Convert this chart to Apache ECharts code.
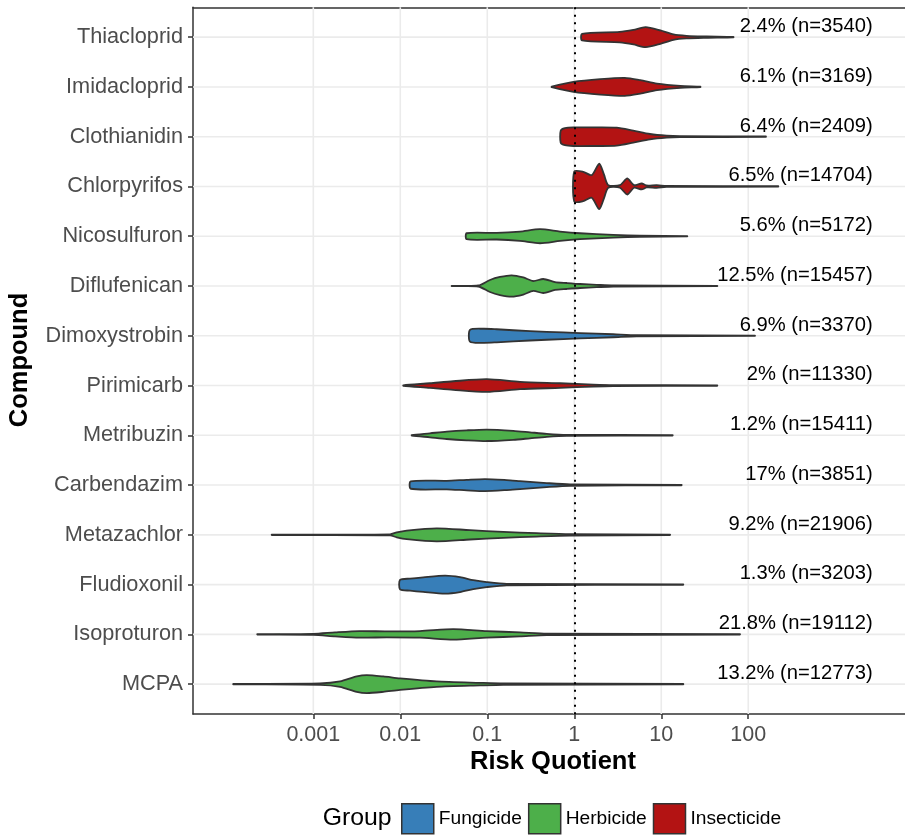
<!DOCTYPE html>
<html><head><meta charset="utf-8">
<script src="https://cdn.jsdelivr.net/npm/echarts@6/dist/echarts.min.js"></script>
<style>html,body{margin:0;padding:0;background:#fff}#c{width:905px;height:835px}</style>
</head><body><div id="c"></div>
<script>
// ---- data (rows listed top to bottom) ----
const compounds = ['Thiacloprid','Imidacloprid','Clothianidin','Chlorpyrifos','Nicosulfuron','Diflufenican','Dimoxystrobin','Pirimicarb','Metribuzin','Carbendazim','Metazachlor','Fludioxonil','Isoproturon','MCPA'];
const groups = ['Insecticide','Insecticide','Insecticide','Insecticide','Herbicide','Herbicide','Fungicide','Insecticide','Herbicide','Fungicide','Herbicide','Fungicide','Herbicide','Herbicide'];
const pctExceed = ['2.4','6.1','6.4','6.5','5.6','12.5','6.9','2','1.2','17','9.2','1.3','21.8','13.2'];
const nSamples = [3540,3169,2409,14704,5172,15457,3370,11330,15411,3851,21906,3203,19112,12773];
const xBreaks = [0.001,0.01,0.1,1,10,100];
const xTickLabels = ['0.001','0.01','0.1','1','10','100'];
const groupNames = ['Fungicide','Herbicide','Insecticide'];
const groupColors = ['#377EB8','#4DAF4A','#B31313'];

// violin outlines: [log10(RQ), half-width (fraction of row spacing)]
const vThiacloprid = [[0.09,.066],[0.52,.106],[0.68,.147],[0.82,.201],[0.99,.135],[1.14,.054],[1.29,.026],[1.52,.014],[1.83,.004]];
const vImidacloprid = [[-0.26,.006],[-0.01,.10],[0.30,.155],[0.58,.181],[0.76,.135],[0.95,.066],[1.22,.02],[1.45,.004]];
const vClothianidin = [[-0.156,.121],[-0.107,.171],[-0.011,.187],[0.218,.187],[0.487,.181],[0.678,.121],[0.870,.054],[1.062,.02],[1.215,.01],[2.203,.004]];
const vChlorpyrifos = [[0,.301],[0.103,.295],[0.2,.227],[0.287,.456],[0.341,.241],[0.391,.026],[0.525,.026],[0.609,.161],[0.686,.026],[0.775,.06],[0.832,.02],[0.947,.026],[1.062,.01],[2.345,.004]];
const vNicosulfuron = [[-1.237,.06],[-0.892,.066],[-0.624,.094],[-0.394,.141],[-0.164,.094],[0.066,.06],[0.448,.026],[0.755,.01],[1.299,.004]];
const vDiflufenican = [[-1.409,.004],[-1.103,.01],[-0.969,.121],[-0.854,.181],[-0.720,.215],[-0.586,.171],[-0.471,.10],[-0.356,.141],[-0.222,.08],[-0.087,.06],[0.066,.04],[0.257,.024],[0.448,.01],[1.644,.004]];
const vDimoxystrobin = [[-1.199,.117],[-1.046,.141],[-0.892,.131],[-0.701,.111],[-0.317,.08],[0.066,.054],[0.448,.03],[0.717,.01],[2.077,.004]];
const vPirimicarb = [[-1.966,.004],[-1.659,.046],[-1.391,.086],[-1.007,.127],[-0.624,.074],[-0.164,.046],[0.218,.02],[0.448,.01],[1.644,.004]];
const vMetribuzin = [[-1.869,.004],[-1.659,.04],[-1.467,.074],[-1.237,.10],[-1.007,.115],[-0.701,.09],[-0.509,.06],[-0.317,.03],[-0.087,.01],[1.131,.004]];
const vCarbendazim = [[-1.880,.074],[-1.467,.086],[-1.237,.106],[-1.026,.121],[-0.777,.10],[-0.624,.08],[-0.317,.04],[-0.049,.014],[1.234,.004]];
const vMetazachlor = [[-3.478,.004],[-2.118,.01],[-2.041,.05],[-1.926,.086],[-1.582,.131],[-1.199,.094],[-0.816,.06],[-0.432,.034],[-0.049,.014],[1.101,.004]];
const vFludioxonil = [[-2.003,.094],[-1.888,.121],[-1.736,.147],[-1.486,.181],[-1.314,.151],[-1.161,.09],[-1.007,.05],[-0.777,.014],[1.253,.004]];
const vIsoproturon = [[-3.644,.004],[-3.0,.01],[-2.75,.04],[-2.47,.066],[-2.156,.06],[-1.774,.066],[-1.391,.106],[-1.007,.066],[-0.624,.04],[-0.317,.014],[1.905,.004]];
const vMCPA = [[-3.920,.004],[-2.923,.014],[-2.693,.054],[-2.501,.155],[-2.386,.181],[-2.195,.155],[-2.003,.115],[-1.582,.054],[-1.084,.026],[-0.816,.014],[1.253,.004]];
const violins = [vThiacloprid,vImidacloprid,vClothianidin,vChlorpyrifos,vNicosulfuron,vDiflufenican,vDimoxystrobin,vPirimicarb,vMetribuzin,vCarbendazim,vMetazachlor,vFludioxonil,vIsoproturon,vMCPA];

// ---- chart ----
const FONT = '"Liberation Sans", Arial, Helvetica, sans-serif';
const X_MIN = -4.383, X_MAX = 3.802, Y_MIN = -0.6, Y_MAX = 13.6;
const LABEL_X = 3.43;
const rows = compounds.map((c, i) => i);
const logBreaks = xBreaks.map(v => Math.log10(v));

function renderViolin(params, api) {
  const i = api.value(1);
  const prof = violins[i];
  const pts = [];
  for (const p of prof) pts.push(api.coord([p[0], i - p[1]]));
  for (let k = prof.length - 1; k >= 0; k--) pts.push(api.coord([prof[k][0], i + prof[k][1]]));
  return {
    type: 'polygon',
    shape: { points: pts, smooth: 0.25 },
    style: { fill: api.visual('color'), stroke: '#333333', lineWidth: 1.8, lineJoin: 'round' }
  };
}

const violinSeries = groupNames.map((g, gi) => ({
  name: g,
  type: 'custom',
  z: 3,
  itemStyle: { color: groupColors[gi], borderColor: '#333333', borderWidth: 1.5 },
  renderItem: renderViolin,
  data: rows.filter(i => groups[i] === g).map(i => [0, i])
}));

const option = {
  animation: false,
  backgroundColor: '#ffffff',
  grid: { left: 193, right: 0, top: 7.3, bottom: 835 - 714 },
  xAxis: [{
    type: 'value', min: X_MIN, max: X_MAX,
    axisLine: { show: true, onZero: false, lineStyle: { color: '#333333', width: 1.5 } },
    axisTick: { show: true, length: 5, lineStyle: { color: '#333333', width: 1.5 }, customValues: logBreaks },
    axisLabel: { customValues: logBreaks, margin: 10, color: '#4D4D4D', fontSize: 21.5, fontFamily: FONT,
      formatter: v => { const k = logBreaks.findIndex(b => Math.abs(b - v) < 1e-6); return k >= 0 ? xTickLabels[k] : ''; } },
    splitLine: { show: false }
  }, {
    type: 'value', position: 'top', min: X_MIN, max: X_MAX,
    axisLine: { show: true, onZero: false, lineStyle: { color: '#333333', width: 1.5 } },
    axisTick: { show: false }, axisLabel: { show: false }, splitLine: { show: false }
  }],
  yAxis: {
    type: 'value', min: Y_MIN, max: Y_MAX, inverse: true,
    axisLine: { show: true, onZero: false, lineStyle: { color: '#333333', width: 1.5 } },
    axisTick: { show: true, length: 5, lineStyle: { color: '#333333', width: 1.5 }, customValues: rows },
    axisLabel: { customValues: rows, margin: 10, color: '#4D4D4D', fontSize: 21.7, fontFamily: FONT,
      formatter: v => compounds[Math.round(v)] || '' },
    splitLine: { show: false }
  },
  legend: {
    data: groupNames, left: 401, top: 803, orient: 'horizontal', padding: 0,
    itemWidth: 32, itemHeight: 30, itemGap: 6, icon: 'rect',
    itemStyle: { borderColor: '#333333', borderWidth: 1.5 },
    textStyle: { fontSize: 19.2, color: '#000000', fontFamily: FONT }
  },
  graphic: [
    { type: 'text', x: 553, y: 762, style: { text: 'Risk Quotient', font: 'bold 25.5px ' + FONT, fill: '#000', align: 'center', verticalAlign: 'middle' } },
    { type: 'text', x: 20, y: 360, rotation: Math.PI / 2, style: { text: 'Compound', font: 'bold 25.5px ' + FONT, fill: '#000', align: 'center', verticalAlign: 'middle' } },
    { type: 'text', x: 322.7, y: 818, style: { text: 'Group', font: '24.8px ' + FONT, fill: '#000', align: 'left', verticalAlign: 'middle' } }
  ],
  series: [
    {
      type: 'custom', z: 1, silent: true,
      renderItem: (params, api) => {
        const cs = params.coordSys;
        const kind = api.value(0), v = api.value(1);
        if (kind === 0) {
          const x = api.coord([v, 0])[0];
          return { type: 'line', shape: { x1: x, y1: cs.y, x2: x, y2: cs.y + cs.height }, style: { stroke: '#EBEBEB', lineWidth: 1.6 } };
        }
        const y = api.coord([0, v])[1];
        return { type: 'line', shape: { x1: cs.x, y1: y, x2: cs.x + cs.width, y2: y }, style: { stroke: '#EBEBEB', lineWidth: 1.6 } };
      },
      data: logBreaks.map(b => [0, b]).concat(rows.map(i => [1, i]))
    },
    ...violinSeries,
    {
      type: 'custom', z: 5, silent: true,
      renderItem: (params, api) => {
        const i = api.value(1);
        const p = api.coord([LABEL_X, i - 0.215]);
        return { type: 'text', x: p[0], y: p[1], style: { text: pctExceed[i] + '% (n=' + nSamples[i] + ')', font: '20.2px ' + FONT, fill: '#000', align: 'right', verticalAlign: 'middle' } };
      },
      data: rows.map(i => [LABEL_X, i]),
      markLine: {
        silent: true, symbol: 'none', label: { show: false },
        lineStyle: { color: '#000000', type: [2, 5.5], width: 2 },
        data: [{ xAxis: 0 }]
      }
    }
  ]
};

const chart = echarts.init(document.getElementById('c'), null, { renderer: 'canvas' });
chart.setOption(option);
</script>
</body></html>
